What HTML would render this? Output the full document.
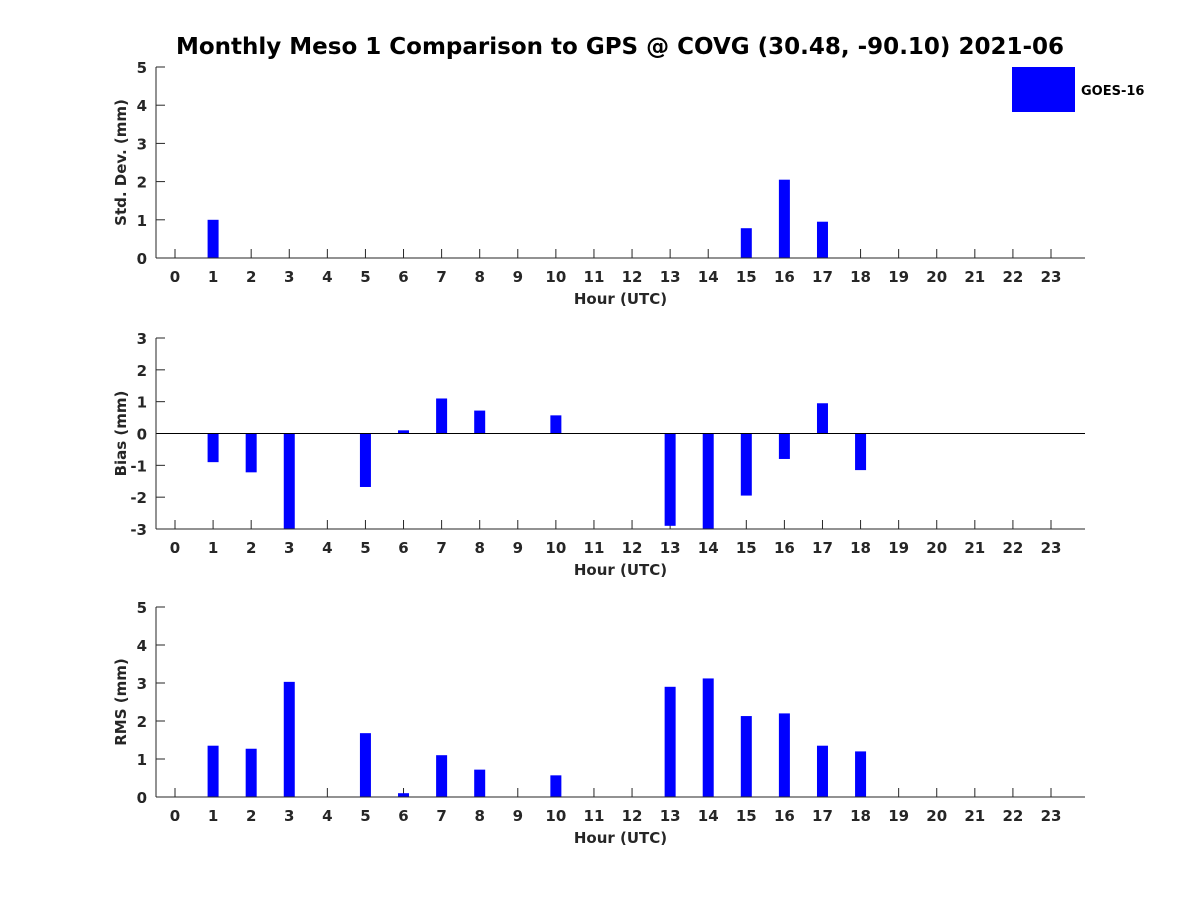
<!DOCTYPE html>
<html><head><meta charset="utf-8"><style>body{margin:0;background:#fff}svg{display:block;font-family:"DejaVu Sans","Liberation Sans",sans-serif;font-weight:bold}</style></head>
<body>
<svg id="c" width="1200" height="900">
<text x="620" y="54" text-anchor="middle" font-size="23" fill="#000">Monthly Meso 1 Comparison to GPS @ COVG (30.48, -90.10) 2021-06</text>
<g><rect x="1012" y="67" width="63" height="45" fill="#0000ff"/><text x="1081" y="95" font-size="13" fill="#000">GOES-16</text></g>
</svg>
<script>
const hours = [0,1,2,3,4,5,6,7,8,9,10,11,12,13,14,15,16,17,18,19,20,21,22,23];
const stdDev = [null,1.0,null,null,null,null,null,null,null,null,null,null,null,null,null,0.78,2.05,0.95,null,null,null,null,null,null];
const bias = [null,-0.9,-1.22,-3.05,null,-1.68,0.1,1.1,0.72,null,0.57,null,null,-2.9,-3.1,-1.95,-0.8,0.95,-1.15,null,null,null,null,null];
const rms = [null,1.35,1.27,3.03,null,1.68,0.1,1.1,0.72,null,0.57,null,null,2.9,3.12,2.13,2.2,1.35,1.2,null,null,null,null,null];
const stdTicks = [0,1,2,3,4,5];
const biasTicks = [-3,-2,-1,0,1,2,3];
const rmsTicks = [0,1,2,3,4,5];
const svg = document.getElementById('c');
const NS = 'http://www.w3.org/2000/svg';
function mk(tag, attrs, parent){const e=document.createElementNS(NS,tag);for(const k in attrs)e.setAttribute(k,attrs[k]);(parent||svg).appendChild(e);return e;}
const L=156,R=1085;
const xs = h => 175 + (h)*(1051-175)/23;
function panel(name, top, bot, ymin, ymax, ticks, vals, ylabel, zero){
  const g=mk('g',{});
  
  
  const ys = v => bot - (v-ymin)/(ymax-ymin)*(bot-top);
  const clip = mk('clipPath',{id:'cl'+name},g); mk('rect',{x:L,y:top,width:R-L,height:bot-top},clip);
  ticks.forEach(t=>{const y=ys(t);
    mk('line',{x1:L,x2:L+9,y1:y,y2:y,stroke:'#262626'},g);
    const tx=mk('text',{x:L-9,y:y+6,'text-anchor':'end','font-size':15,fill:'#262626'},g);tx.textContent=t;
     
  });
  hours.forEach(h=>{const x=xs(h);
    mk('line',{x1:x,x2:x,y1:bot,y2:bot-9,stroke:'#262626'},g);
    const tx=mk('text',{x:x,y:bot+24,'text-anchor':'middle','font-size':15,fill:'#262626'},g);tx.textContent=h;
     
  });
  const bars=mk('g',{'clip-path':'url(#cl'+name+')'},g);
  hours.forEach((h,i)=>{const v=vals[i]; if(v===null)return;
    const base=zero?ys(0):ys(ymin); const y=ys(v);
    const r=mk('rect',{x:xs(h)-5.5,y:Math.min(y,base),width:11,height:Math.abs(y-base),fill:'#0000ff'},bars);
    
    
  });
  if(zero) mk('line',{x1:L,x2:R,y1:ys(0),y2:ys(0),stroke:'#000','stroke-width':1},g);
  mk('line',{x1:L,x2:L,y1:top,y2:bot,stroke:'#262626','stroke-width':1},g);
  mk('line',{x1:L,x2:R,y1:bot,y2:bot,stroke:'#262626','stroke-width':1},g);
  const xl=mk('text',{x:(L+R)/2,y:bot+46,'text-anchor':'middle','font-size':15,fill:'#262626'},g);xl.textContent='Hour (UTC)';
   
  const cy=(top+bot)/2;
  const yl=mk('text',{x:126,y:cy,'text-anchor':'middle','font-size':15,fill:'#262626',transform:`rotate(-90 126 ${cy})`},g);yl.textContent=ylabel;
   
}
panel('std',67,258,0,5,stdTicks,stdDev,'Std. Dev. (mm)',false);
panel('bias',338,529,-3,3,biasTicks,bias,'Bias (mm)',true);
panel('rms',607,797,0,5,rmsTicks,rms,'RMS (mm)',false);
</script>
</body></html>
